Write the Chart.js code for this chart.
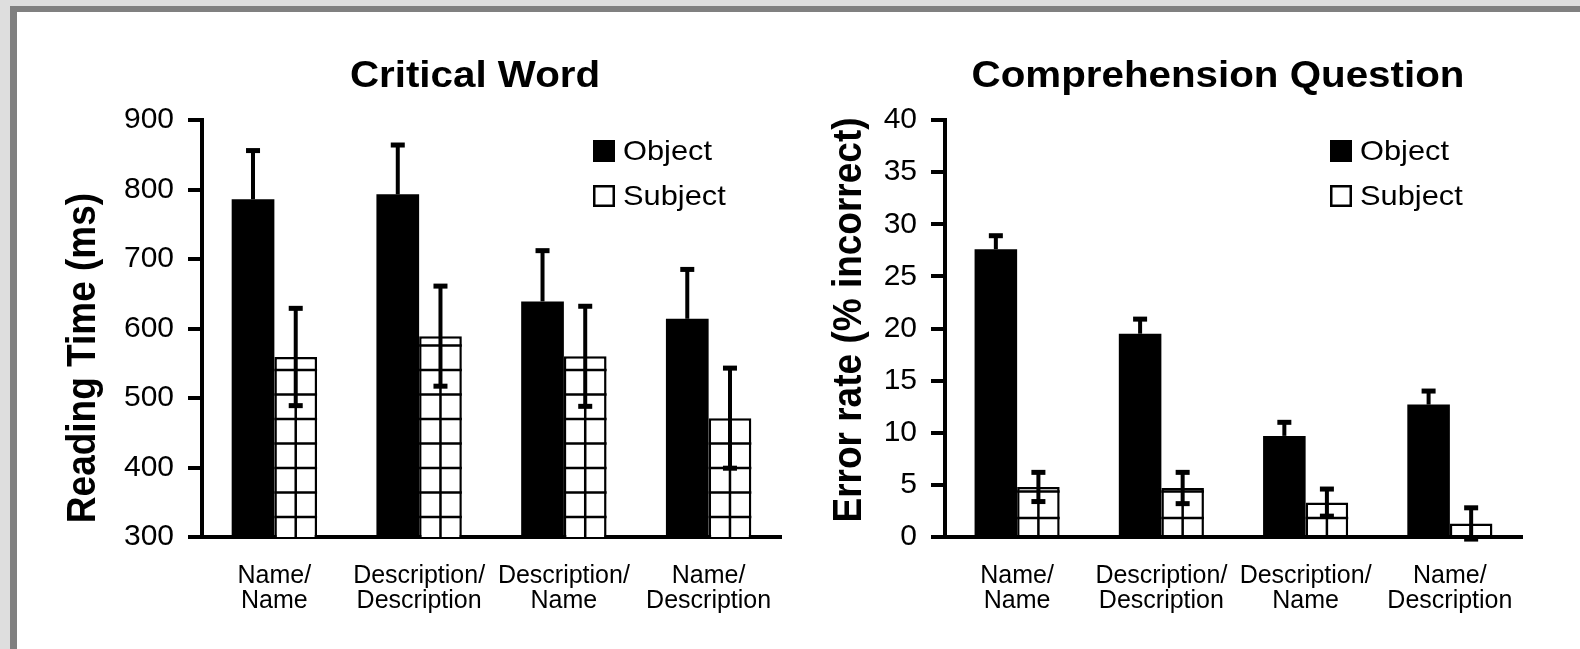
<!DOCTYPE html>
<html>
<head>
<meta charset="utf-8">
<script src="https://cdn.jsdelivr.net/npm/chart.js@4.4.0/dist/chart.umd.min.js"></script>
<style>
body { margin: 0; width: 1580px; height: 649px; background: #fff; overflow: hidden; position: relative; }
.f { position: absolute; }
canvas { position: absolute; top: 0; }
</style>
</head>
<body>
<div class="f" style="left:0;top:0;width:1580px;height:6px;background:#dedede"></div>
<div class="f" style="left:0;top:0;width:10px;height:649px;background:#dedede"></div>
<div class="f" style="left:10px;top:6px;width:1570px;height:6px;background:#808080"></div>
<div class="f" style="left:10px;top:6px;width:7px;height:643px;background:#808080"></div>
<canvas id="rt" width="790" height="649" style="left:0"></canvas>
<canvas id="er" width="790" height="649" style="left:790px"></canvas>
<script>
// categories and series
var categories = [['Name/', 'Name'], ['Description/', 'Description'], ['Description/', 'Name'], ['Name/', 'Description']];
var seriesNames = ['Object', 'Subject'];

// reading time (ms)
var rtObject = [786, 793, 639, 614];
var rtObjectErr = [70, 71, 73, 71];
var rtSubject = [559, 589, 560, 471];
var rtSubjectErr = [70, 72, 72, 72];

// error rate (% incorrect)
var erObject = [27.6, 19.5, 9.7, 12.7];
var erObjectErr = [1.3, 1.4, 1.3, 1.3];
var erSubject = [4.8, 4.7, 3.3, 1.3];
var erSubjectErr = [1.4, 1.5, 1.3, 1.5];

var FONT = "'Liberation Sans', Arial, sans-serif";

function stretchText(ctx, text, x, y, font, sx, rotate) {
  ctx.save();
  ctx.translate(x, y);
  ctx.scale(sx, 1);
  if (rotate) ctx.rotate(-Math.PI / 2);
  ctx.font = font;
  ctx.fillText(text, 0, 0);
  ctx.restore();
}

var extras = {
  id: 'extras',
  afterDatasetsDraw: function(chart, args, o) {
    var ctx = chart.ctx, yScale = chart.scales.y, ca = chart.chartArea;
    ctx.save();
    ctx.strokeStyle = '#000';
    ctx.fillStyle = '#000';

    // grid hatch inside the subject bars
    ctx.lineWidth = 2.5;
    chart.getDatasetMeta(1).data.forEach(function(bar) {
      var l = bar.x - bar.width / 2, r = bar.x + bar.width / 2;
      var base = Math.min(bar.base, ca.bottom);
      ctx.beginPath();
      ctx.moveTo(bar.x, base);
      ctx.lineTo(bar.x, bar.y);
      for (var h = base - o.hatchFirst; h > bar.y + 3; h -= o.hatchStep) {
        ctx.moveTo(l, h);
        ctx.lineTo(r, h);
      }
      ctx.stroke();
    });

    // error bars
    chart.data.datasets.forEach(function(ds, i) {
      chart.getDatasetMeta(i).data.forEach(function(bar, j) {
        var v = ds.data[j], e = ds.errors[j];
        var top = yScale.getPixelForValue(v + e);
        var bot = ds.lowerError ? yScale.getPixelForValue(v - e) : bar.y;
        ctx.lineWidth = 4;
        ctx.beginPath();
        ctx.moveTo(bar.x, top);
        ctx.lineTo(bar.x, bot);
        ctx.stroke();
        ctx.fillRect(bar.x - 7, top - 2.5, 14, 5);
        if (ds.lowerError) ctx.fillRect(bar.x - 7, bot - 2.5, 14, 5);
      });
    });
    ctx.restore();
  },
  afterDraw: function(chart, args, o) {
    var ctx = chart.ctx, ca = chart.chartArea;
    ctx.save();
    ctx.fillStyle = '#000';

    // title
    ctx.textAlign = 'center';
    ctx.textBaseline = 'alphabetic';
    stretchText(ctx, o.title, ca.left + 273, 87, 'bold 36px ' + FONT, 1.12, false);

    // y axis title
    stretchText(ctx, o.yTitle, o.yTitleX, o.yTitleY, 'bold 37px ' + FONT, 1.12, true);

    // legend
    ctx.textAlign = 'left';
    ctx.textBaseline = 'middle';
    chart.data.datasets.forEach(function(ds, i) {
      var bx = ca.left + o.legendX, by = ca.top + 20 + i * 45;
      if (i === 0) {
        ctx.fillRect(bx, by, 22, 22);
      } else {
        ctx.lineWidth = 2.5;
        ctx.strokeStyle = '#000';
        ctx.strokeRect(bx + 1.25, by + 1.25, 19.5, 19.5);
      }
      stretchText(ctx, ds.label, bx + 30, by + 12, '28px ' + FONT, 1.1, false);
    });
    ctx.restore();
  }
};

function makeChart(id, objVals, objErr, subVals, subErr, yMin, yMax, yStep, axisWidth, padRight, plug) {
  return new Chart(document.getElementById(id), {
    type: 'bar',
    data: {
      labels: categories,
      datasets: [
        { label: seriesNames[0], data: objVals, errors: objErr, lowerError: false,
          backgroundColor: '#000', borderColor: '#000', borderWidth: 0 },
        { label: seriesNames[1], data: subVals, errors: subErr, lowerError: true,
          backgroundColor: '#fff', borderColor: '#000', borderWidth: 2.5 }
      ]
    },
    options: {
      responsive: false,
      animation: false,
      layout: { padding: { top: 120, right: padRight, left: 0, bottom: 0 } },
      datasets: { bar: { barPercentage: 1, categoryPercentage: 0.59 } },
      plugins: { legend: { display: false }, tooltip: { enabled: false }, extras: plug },
      scales: {
        x: {
          grid: { display: false, drawTicks: false },
          border: { display: true, color: '#000', width: 4 },
          ticks: { color: '#000', font: { family: FONT, size: 25, lineHeight: 1.0 }, padding: 27,
            maxRotation: 0, autoSkip: false },
          afterFit: function(s) { s.height = 112; s.paddingLeft = 0; s.paddingRight = 0; }
        },
        y: {
          min: yMin, max: yMax,
          grid: { drawOnChartArea: false, drawTicks: true, tickLength: 14, color: '#000', lineWidth: 4 },
          border: { display: true, color: '#000', width: 4 },
          ticks: { stepSize: yStep, color: '#000', font: { family: FONT, size: 30 }, padding: 14 },
          afterFit: function(s) { s.width = axisWidth; }
        }
      }
    },
    plugins: [extras]
  });
}

makeChart('rt', rtObject, rtObjectErr, rtSubject, rtSubjectErr, 300, 900, 100, 202, 9,
  { title: 'Critical Word', yTitle: 'Reading Time (ms)', yTitleX: 95, yTitleY: 358,
    legendX: 391, hatchFirst: 20, hatchStep: 24.5 });

makeChart('er', erObject, erObjectErr, erSubject, erSubjectErr, 0, 40, 5, 155, 58,
  { title: 'Comprehension Question', yTitle: 'Error rate (% incorrect)', yTitleX: 71, yTitleY: 320,
    legendX: 385, hatchFirst: 17, hatchStep: 26.5 });
</script>
</body>
</html>
